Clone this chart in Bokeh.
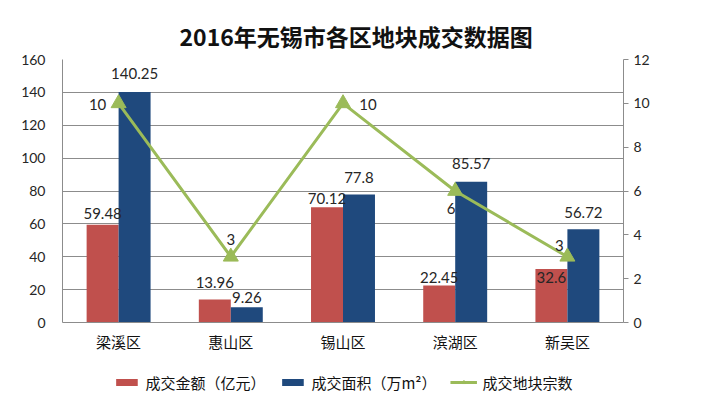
from bokeh.plotting import figure
from bokeh.layouts import column
from bokeh.models import (ColumnDataSource, FactorRange, Range1d, LinearAxis,
                          SingleIntervalTicker, Legend, LegendItem)
from bokeh.transform import dodge
from bokeh.core.properties import value
from bokeh.embed import file_html
from bokeh.resources import INLINE

# ---- data ----
districts = ["梁溪区", "惠山区", "锡山区", "滨湖区", "新吴区"]
amount = [59.48, 13.96, 70.12, 22.45, 32.6]      # 成交金额（亿元）
area = [140.25, 9.26, 77.8, 85.57, 56.72]        # 成交面积（万m²）
count = [10, 3, 10, 6, 3]                        # 成交地块宗数
left_ticks_max = 160
right_ticks_max = 12

title_text = "2016年无锡市各区地块成交数据图"
legend_labels = ["成交金额（亿元）", "成交面积（万m²）", "成交地块宗数"]

# ---- label placement (screen px, style only) ----
amount_lbl_dy = [-11, -17, -9, -8, 9]
area_lbl_dy = [-18, -10, -17, -18, -17]
count_lbl_dx = [-21, 0, 25, -4, -8]
count_lbl_dy = [1, -17, 1, 17, -11]

RED = "#C0504D"
BLUE = "#1F497D"
GREEN = "#9BBB59"
GRID = "#8C8C8C"
TXT = "#262626"

src = ColumnDataSource(dict(
    cat=districts, amount=amount, area=area, count=count,
    amount_txt=[f"{v:g}" for v in amount],
    area_txt=[f"{v:g}" for v in area],
    count_txt=[str(v) for v in count],
    a_dy=amount_lbl_dy, b_dy=area_lbl_dy, c_dx=count_lbl_dx, c_dy=count_lbl_dy,
))

p = figure(width=716, height=362, x_range=FactorRange(*districts),
           y_range=Range1d(0, left_ticks_max), output_backend="svg",
           toolbar_location=None, min_border_left=62, min_border_right=93,
           min_border_top=59, min_border_bottom=40)
p.background_fill_color = "white"
p.border_fill_color = "white"
p.outline_line_color = None
p.extra_y_ranges = {"right": Range1d(0, right_ticks_max)}

p.title.text = title_text
p.title.align = "left"
p.title.offset = 117
p.title.vertical_align = "middle"
p.title.text_font = "Noto Sans CJK SC"
p.title.text_font_size = "23px"
p.title.text_font_style = "bold"
p.title.text_color = "#111111"
p.title.standoff = 12

bw = 0.285
r1 = p.vbar(x=dodge("cat", -bw / 2, range=p.x_range), top="amount", width=bw,
            source=src, fill_color=RED, line_color=None)
r2 = p.vbar(x=dodge("cat", bw / 2, range=p.x_range), top="area", width=bw,
            source=src, fill_color=BLUE, line_color=None)
r3 = p.line(x="cat", y="count", source=src, y_range_name="right",
            line_color=GREEN, line_width=3)
r4 = p.scatter(x="cat", y="count", source=src, y_range_name="right",
               marker="triangle", size=15, fill_color=GREEN, line_color=GREEN)

lbl_font = value("Lato")
p.text(x=dodge("cat", -bw / 2, range=p.x_range), y="amount", text="amount_txt",
       y_offset="a_dy", source=src, text_align="center", text_baseline="middle",
       text_font=lbl_font, text_font_size="15px", text_color=TXT)
p.text(x=dodge("cat", bw / 2, range=p.x_range), y="area", text="area_txt",
       y_offset="b_dy", source=src, text_align="center", text_baseline="middle",
       text_font=lbl_font, text_font_size="15px", text_color=TXT)
p.text(x="cat", y="count", text="count_txt", x_offset="c_dx", y_offset="c_dy",
       source=src, y_range_name="right", text_align="center",
       text_baseline="middle", text_font=lbl_font, text_font_size="15px",
       text_color=TXT)

# axes
p.xgrid.grid_line_color = None
p.ygrid.grid_line_color = GRID
p.ygrid.ticker = SingleIntervalTicker(interval=20)

ya = p.yaxis[0]
ya.ticker = SingleIntervalTicker(interval=20)
ya.axis_line_color = GRID
ya.major_tick_line_color = None
ya.minor_tick_line_color = None
ya.major_label_text_font = "Lato"
ya.major_label_text_font_size = "14px"
ya.major_label_text_color = TXT
ya.major_label_standoff = 11

ra = LinearAxis(y_range_name="right", ticker=SingleIntervalTicker(interval=2))
ra.axis_line_color = GRID
ra.major_tick_line_color = GRID
ra.major_tick_out = 5
ra.major_tick_in = 0
ra.minor_tick_line_color = None
ra.major_label_text_font = "Lato"
ra.major_label_text_font_size = "14px"
ra.major_label_text_color = TXT
ra.major_label_standoff = 5
p.add_layout(ra, "right")

xa = p.xaxis[0]
xa.axis_line_color = GRID
xa.major_tick_line_color = None
xa.minor_tick_line_color = None
xa.major_label_text_font = "Noto Sans CJK SC"
xa.major_label_text_font_size = "15px"
xa.major_label_text_color = "#111111"
xa.major_label_standoff = 2

# ---- legend strip below the chart ----
lg = figure(width=716, height=40, x_range=Range1d(0, 716), y_range=Range1d(0, 40),
            output_backend="svg", toolbar_location=None,
            min_border_left=0, min_border_right=0, min_border_top=0,
            min_border_bottom=0)
lg.axis.visible = False
lg.grid.grid_line_color = None
lg.outline_line_color = None
lg.background_fill_color = "white"
lg.border_fill_color = "white"
# legend key renderers (placed outside the visible range; only their keys show)
k1 = lg.vbar(x=[-50], top=[-10], width=1, fill_color=RED, line_color=None)
k2 = lg.vbar(x=[-50], top=[-10], width=1, fill_color=BLUE, line_color=None)
k3 = lg.line(x=[-60, -50], y=[-10, -10], line_color=GREEN, line_width=3)
k4 = lg.scatter(x=[-50], y=[-10], marker="triangle", size=12, fill_color=GREEN,
                line_color=GREEN)

legend = Legend(items=[
    LegendItem(label=legend_labels[0], renderers=[k1]),
    LegendItem(label=legend_labels[1], renderers=[k2]),
    LegendItem(label=legend_labels[2], renderers=[k3, k4]),
], orientation="horizontal", location="center")
legend.label_text_font = "Noto Sans CJK SC"
legend.label_text_font_size = "15px"
legend.label_text_color = "#111111"
legend.glyph_width = 27
legend.glyph_height = 9
legend.spacing = 13
legend.label_standoff = 6
legend.border_line_color = None
legend.background_fill_alpha = 0
legend.margin = 0
legend.padding = 0
lg.add_layout(legend, "center")

layout = column(p, lg, spacing=0)

open("out.html", "w").write(file_html(layout, INLINE))
